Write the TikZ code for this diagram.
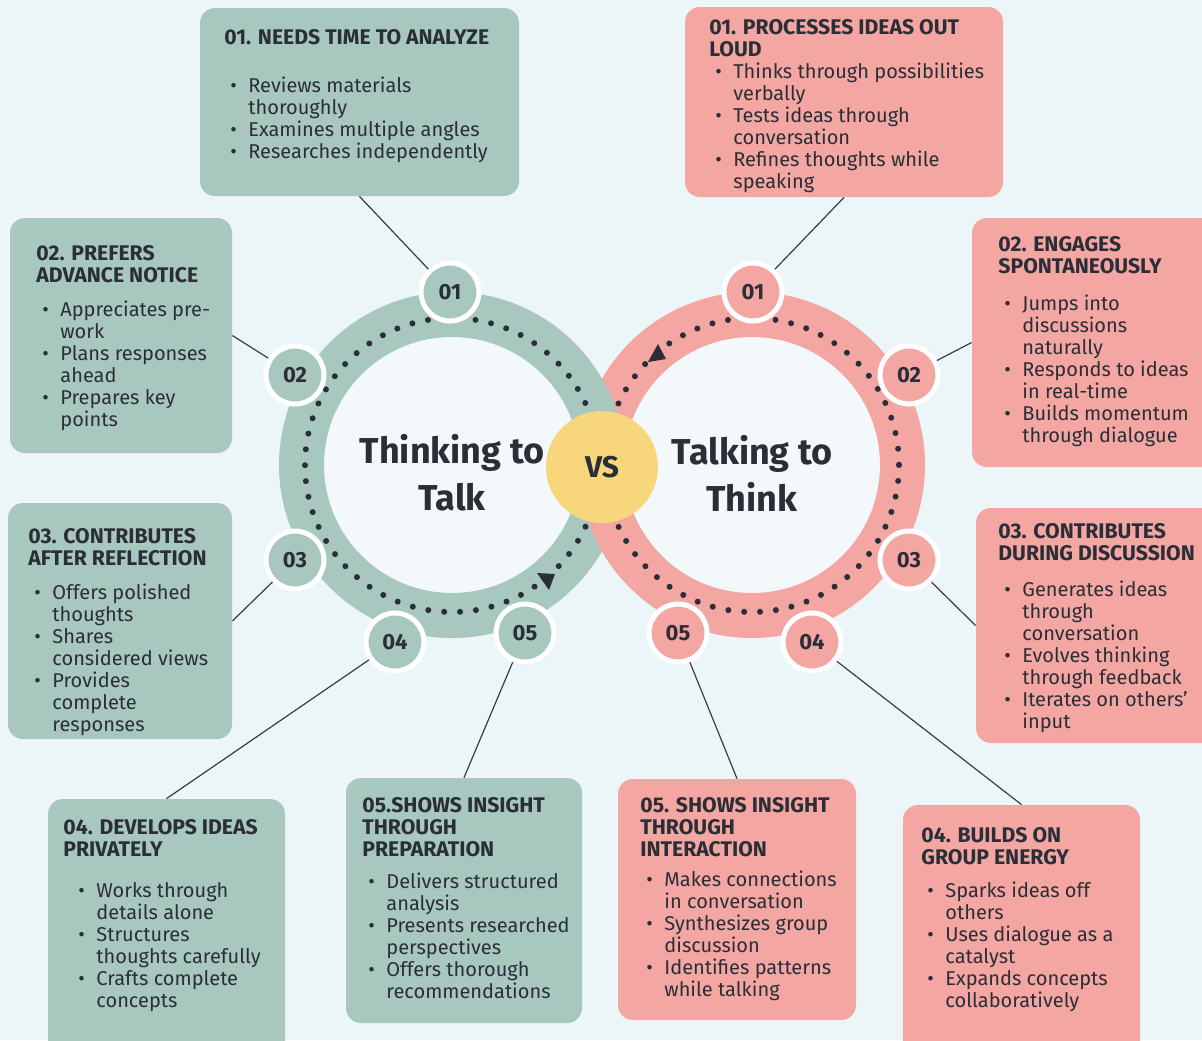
\documentclass[tikz,border=0pt]{standalone}
\usepackage{fontspec}
\setmainfont{Fira Sans}
\usetikzlibrary{fit, calc}
\definecolor{TTGreen}{RGB}{168, 200, 191}
\definecolor{TTPink}{RGB}{244, 166, 163}
\definecolor{TTBack}{RGB}{236, 245, 247}
\definecolor{TTInner}{RGB}{243, 249, 250}
\definecolor{TTGold}{RGB}{247, 214, 124}
\definecolor{TTInk}{RGB}{42, 46, 54}
\definecolor{TTLine}{RGB}{58, 60, 64}
\newlength{\bulind}\setlength{\bulind}{3pt}
\newlength{\bulgap}\setlength{\bulgap}{9pt}
\newcommand{\hd}[1]{{\fontsize{10.6}{11}\selectfont\bfseries #1}}
\newcommand{\bul}{\hspace*{\bulind}\makebox[\bulgap][l]{\textbullet}}
\newcommand{\ind}{\hspace*{\dimexpr\bulind+\bulgap\relax}}
% ring band with its dotted track
\newcommand{\loopring}[2]{%
  \draw[line width=22.5pt, draw=#2] (#1) circle[radius=150.5];
  \draw[dotline] (#1) circle[radius=147];
}

\begin{document}
\begin{tikzpicture}[
  x=0.5pt, y=-0.5pt,
  every node/.style={font=\fontsize{10}{11}\selectfont, text=TTInk},
  gcard/.style={fill=TTGreen, rounded corners=7.5pt, inner sep=0pt},
  pcard/.style={fill=TTPink, rounded corners=7.5pt, inner sep=0pt},
  cardtext/.style={anchor=north west, align=left, inner sep=0pt},
  wide indent/.style={execute at begin node={\setlength{\bulind}{7.5pt}}},
  badge/.style={circle, draw=white, line width=2.5pt, minimum size=29pt,
                inner sep=0pt, font=\fontsize{11}{12}\selectfont\bfseries},
  gbadge/.style={badge, fill=TTGreen},
  pbadge/.style={badge, fill=TTPink},
  title/.style={align=center, font=\fontsize{18}{23.5}\selectfont\bfseries},
  dotline/.style={draw=TTInk, line width=3pt, line cap=round,
                  dash pattern=on 0pt off 7.96pt},
  link/.style={draw=TTLine, line width=0.6pt},
  tip/.style={fill=TTInk}
]
  \path[use as bounding box, fill=TTBack] (0,0) rectangle (1202,1040);

  %% Cards, left side
  \node[gcard, fit={(200,8) (519,196)}]    (lbox1) {};
  \node[gcard, fit={(10,218) (232,453)}]   (lbox2) {};
  \node[gcard, fit={(8,503) (232,739)}]    (lbox3) {};
  \node[gcard, fit={(48,799) (285,1060)}]  (lbox4) {};
  \node[gcard, fit={(346,778) (582,1023)}] (lbox5) {};

  %% Cards, right side
  \node[pcard, fit={(685,7) (1003,197)}]    (rbox1) {};
  \node[pcard, fit={(972,218) (1220,467)}]  (rbox2) {};
  \node[pcard, fit={(976,508) (1220,743)}]  (rbox3) {};
  \node[pcard, fit={(903,805) (1140,1060)}] (rbox4) {};
  \node[pcard, fit={(618,779) (856,1020)}]  (rbox5) {};

  %% Card texts
  \node[cardtext] (ltxt1) at (224,29) {\hd{01. NEEDS TIME TO ANALYZE}\\[13pt]
    \bul Reviews materials\\ \ind thoroughly\\
    \bul Examines multiple angles\\
    \bul Researches independently};
  \node[cardtext] (ltxt2) at (36,245) {\hd{02. PREFERS}\\ \hd{ADVANCE NOTICE}\\[6pt]
    \bul Appreciates pre-\\ \ind work\\
    \bul Plans responses\\ \ind ahead\\
    \bul Prepares key\\ \ind points};
  \node[cardtext] (ltxt3) at (28,528) {\hd{03. CONTRIBUTES}\\ \hd{AFTER REFLECTION}\\[6pt]
    \bul Offers polished\\ \ind thoughts\\
    \bul Shares\\ \ind considered views\\
    \bul Provides\\ \ind complete\\ \ind responses};
  \node[cardtext, wide indent] (ltxt4) at (63,819) {\hd{04. DEVELOPS IDEAS}\\ \hd{PRIVATELY}\\[9.5pt]
    \bul Works through\\ \ind details alone\\
    \bul Structures\\ \ind thoughts carefully\\
    \bul Crafts complete\\ \ind concepts};
  \node[cardtext] (ltxt5) at (362,797) {\hd{05.SHOWS INSIGHT}\\ \hd{THROUGH}\\ \hd{PREPARATION}\\[5pt]
    \bul Delivers structured\\ \ind analysis\\
    \bul Presents researched\\ \ind perspectives\\
    \bul Offers thorough\\ \ind recommendations};

  \node[cardtext] (rtxt1) at (709,19) {\hd{01. PROCESSES IDEAS OUT}\\ \hd{LOUD}\\
    \bul Thinks through possibilities\\ \ind verbally\\
    \bul Tests ideas through\\ \ind conversation\\
    \bul Refines thoughts while\\ \ind speaking};
  \node[cardtext] (rtxt2) at (998,236) {\hd{02. ENGAGES}\\ \hd{SPONTANEOUSLY}\\[7.5pt]
    \bul Jumps into\\ \ind discussions\\ \ind naturally\\
    \bul Responds to ideas\\ \ind in real-time\\
    \bul Builds momentum\\ \ind through dialogue};
  \node[cardtext] (rtxt3) at (998,523) {\hd{03. CONTRIBUTES}\\ \hd{DURING DISCUSSION}\\[7pt]
    \bul Generates ideas\\ \ind through\\ \ind conversation\\
    \bul Evolves thinking\\ \ind through feedback\\
    \bul Iterates on others'\\ \ind input};
  \node[cardtext] (rtxt4) at (921,827) {\hd{04. BUILDS ON}\\ \hd{GROUP ENERGY}\\[5.5pt]
    \bul Sparks ideas off\\ \ind others\\
    \bul Uses dialogue as a\\ \ind catalyst\\
    \bul Expands concepts\\ \ind collaboratively};
  \node[cardtext] (rtxt5) at (640,797) {\hd{05. SHOWS INSIGHT}\\ \hd{THROUGH}\\ \hd{INTERACTION}\\[4pt]
    \bul Makes connections\\ \ind in conversation\\
    \bul Synthesizes group\\ \ind discussion\\
    \bul Identifies patterns\\ \ind while talking};

  %% The two linked rings
  \coordinate (lc) at (452,465);
  \coordinate (rc) at (752,465);
  \fill[TTInner] (lc) circle[radius=128];
  \fill[TTInner] (rc) circle[radius=128];
  \loopring{rc}{TTPink}
  \loopring{lc}{TTGreen}
  \begin{scope}
    \clip (560,470) rectangle (660,620);
    \loopring{rc}{TTPink}
  \end{scope}

  \node[circle, fill=TTGold, minimum size=56pt, inner sep=0pt,
        font=\fontsize{15}{16}\selectfont\bfseries] (vs) at (602,467) {VS};

  \node[title] (ltitle) at (452,473) {Thinking to\\Talk};
  \node[title] (rtitle) at (752,473) {Talking to\\Think};

  %% Direction marks on the tracks
  \fill[tip] (549,590) -- (537,573) -- (555,574) -- cycle;
  \fill[tip] (658,344) -- (648,362) -- (666,359) -- cycle;

  %% Numbered badges
  \node[gbadge] (gb1) at (450,292) {01};
  \node[gbadge] (gb2) at (295,375) {02};
  \node[gbadge] (gb3) at (295,560) {03};
  \node[gbadge] (gb4) at (395,642) {04};
  \node[gbadge] (gb5) at (525,633) {05};
  \node[pbadge] (pb1) at (753,292) {01};
  \node[pbadge] (pb2) at (909,375) {02};
  \node[pbadge] (pb3) at (909,560) {03};
  \node[pbadge] (pb4) at (812,642) {04};
  \node[pbadge] (pb5) at (678,633) {05};

  %% Leader lines
  \draw[link] (gb1) -- (lbox1.south);
  \draw[link] (gb2) -- (lbox2.east);
  \draw[link] (gb3) -- (lbox3.east);
  \draw[link] (gb4) -- (lbox4.north);
  \draw[link] (gb5) -- (lbox5.north);
  \draw[link] (pb1) -- (rbox1.south);
  \draw[link] (pb2) -- (rbox2.west);
  \draw[link] (pb3) -- (rbox3.west);
  \draw[link] (pb4) -- (rbox4.north);
  \draw[link] (pb5) -- (rbox5.north);
\end{tikzpicture}
\end{document}
